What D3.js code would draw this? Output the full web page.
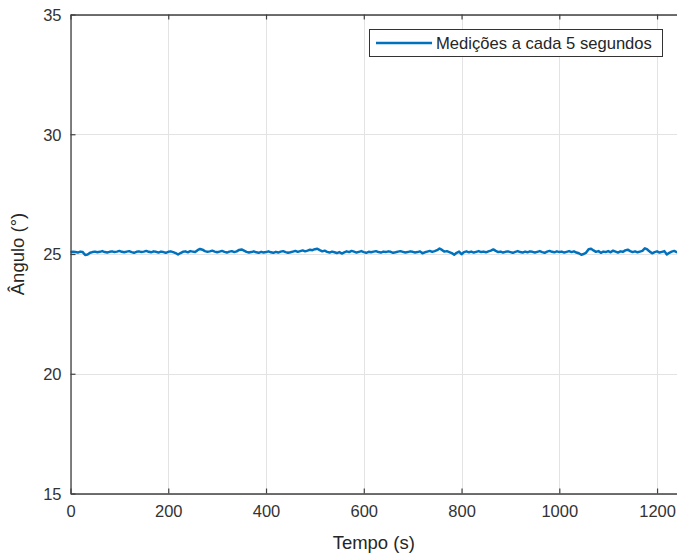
<!DOCTYPE html>
<html>
<head>
<meta charset="utf-8">
<script src="https://cdn.jsdelivr.net/npm/d3@7"></script>
<style>
  html, body { margin: 0; padding: 0; background: #fff; }
  svg { display: block; font-family: "Liberation Sans", Arial, Helvetica, sans-serif; }
</style>
</head>
<body>
<svg id="chart" width="677" height="555"></svg>
<script>
// Ângulo medido a cada 5 s (t = 0, 5, 10, ... s)
const sampleStep = 5;
const angles = [
  25.07,25.09,25.08,25.06,25.10,25.08,24.96,24.98,25.05,25.08,
  25.10,25.07,25.09,25.12,25.08,25.06,25.09,25.11,25.08,25.10,
  25.13,25.09,25.07,25.10,25.12,25.08,25.05,25.09,25.11,25.08,
  25.10,25.13,25.09,25.07,25.11,25.09,25.06,25.10,25.08,25.05,
  25.09,25.11,25.08,25.04,24.98,25.04,25.09,25.11,25.07,25.12,
  25.10,25.08,25.16,25.21,25.18,25.12,25.09,25.11,25.14,25.10,
  25.07,25.10,25.13,25.09,25.06,25.10,25.12,25.08,25.11,25.17,
  25.19,25.14,25.09,25.06,25.08,25.11,25.07,25.05,25.09,25.06,
  25.08,25.11,25.07,25.05,25.09,25.06,25.10,25.12,25.08,25.05,
  25.07,25.10,25.13,25.09,25.12,25.15,25.11,25.14,25.18,25.16,
  25.20,25.22,25.16,25.11,25.14,25.09,25.06,25.10,25.07,25.04,
  25.08,25.02,25.07,25.11,25.08,25.13,25.10,25.06,25.09,25.12,
  25.08,25.05,25.09,25.07,25.10,25.12,25.08,25.06,25.10,25.08,
  25.11,25.09,25.05,25.07,25.10,25.12,25.09,25.06,25.08,25.11,
  25.09,25.06,25.08,25.11,25.03,25.07,25.10,25.13,25.09,25.12,
  25.16,25.23,25.17,25.10,25.12,25.08,25.04,24.97,25.05,25.10,
  24.99,25.08,25.11,25.07,25.10,25.06,25.09,25.12,25.08,25.10,
  25.07,25.11,25.14,25.19,25.13,25.08,25.10,25.06,25.09,25.11,
  25.08,25.05,25.09,25.12,25.08,25.06,25.10,25.07,25.11,25.09,
  25.06,25.09,25.12,25.08,25.05,25.10,25.13,25.09,25.07,25.11,
  25.08,25.10,25.06,25.09,25.12,25.08,25.11,25.06,25.03,24.97,
  25.00,25.06,25.20,25.22,25.15,25.09,25.12,25.05,25.10,25.08,
  25.12,25.07,25.14,25.10,25.06,25.11,25.09,25.15,25.18,25.12,
  25.08,25.11,25.07,25.10,25.13,25.24,25.19,25.10,25.03,25.08,
  25.11,25.06,25.09,25.12,24.98,25.05,25.10,25.13,25.08,25.06
];
const xTicks = [0, 200, 400, 600, 800, 1000, 1200];
const yTicks = [15, 20, 25, 30, 35];
const xDomain = [0, 1250];
const yDomain = [15, 35];
const seriesName = "Medições a cada 5 segundos";
const xTitle = "Tempo (s)";
const yTitle = "Ângulo (°)";

const data = angles.map((v, i) => ({ t: i * sampleStep, v }));

const svg = d3.select("#chart");
const plotLeft = 70.5, plotTop = 14.5, plotBottom = 493.5, plotRight = 681.5;

const x = d3.scaleLinear().domain(xDomain).range([plotLeft, plotRight]);
const y = d3.scaleLinear().domain(yDomain).range([plotBottom, plotTop]);

const axisColor = "#404040";
const gridColor = "#e3e3e3";
const lineColor = "#0072BD";

// grid
const grid = svg.append("g");
grid.selectAll("line.gx").data(xTicks).join("line")
  .attr("x1", d => Math.round(x(d)) + 0.5).attr("x2", d => Math.round(x(d)) + 0.5)
  .attr("y1", plotTop).attr("y2", plotBottom)
  .attr("stroke", gridColor).attr("stroke-width", 1);
grid.selectAll("line.gy").data(yTicks).join("line")
  .attr("y1", d => Math.round(y(d)) + 0.5).attr("y2", d => Math.round(y(d)) + 0.5)
  .attr("x1", plotLeft).attr("x2", plotRight)
  .attr("stroke", gridColor).attr("stroke-width", 1);

// data line
const line = d3.line().x(d => x(d.t)).y(d => y(d.v)).curve(d3.curveLinear);
svg.append("path").datum(data)
  .attr("d", line)
  .attr("fill", "none")
  .attr("stroke", lineColor)
  .attr("stroke-width", 2.5)
  .attr("stroke-linejoin", "round");

// axes
const fontSize = 16.5;
const fmt = d3.format("d");
const xAxisB = d3.axisBottom(x).tickValues(xTicks).tickFormat(fmt).tickSizeInner(-5).tickSizeOuter(0).tickPadding(12);
const gB = svg.append("g").attr("transform", `translate(0,${plotBottom})`).call(xAxisB);
const xAxisT = d3.axisTop(x).tickValues(xTicks).tickSizeInner(-5).tickSizeOuter(0).tickFormat("");
const gT = svg.append("g").attr("transform", `translate(0,${plotTop})`).call(xAxisT);
const yAxisL = d3.axisLeft(y).tickValues(yTicks).tickFormat(fmt).tickSizeInner(-5).tickSizeOuter(0).tickPadding(9);
const gL = svg.append("g").attr("transform", `translate(${plotLeft},0)`).call(yAxisL);

[gB, gT, gL].forEach(g => {
  g.select(".domain").attr("stroke", axisColor).attr("stroke-width", 1.3);
  g.selectAll(".tick line").attr("stroke", axisColor).attr("stroke-width", 1.2);
  g.selectAll(".tick text")
    .attr("fill", "#333")
    .attr("font-size", fontSize)
    .attr("font-family", '"Liberation Sans", Arial, sans-serif');
});
gL.selectAll(".tick text").attr("dy", "0.36em");

// axis titles
svg.append("text")
  .attr("x", (plotLeft + 677) / 2)
  .attr("y", 549)
  .attr("text-anchor", "middle")
  .attr("fill", "#262626")
  .attr("font-size", 18.5)
  .text(xTitle);

svg.append("text")
  .attr("transform", `translate(24,${(plotTop + plotBottom) / 2}) rotate(-90)`)
  .attr("text-anchor", "middle")
  .attr("fill", "#262626")
  .attr("font-size", 18.5)
  .text(yTitle);

// legend
const lg = svg.append("g");
lg.append("rect")
  .attr("x", 369.5).attr("y", 29.5)
  .attr("width", 293).attr("height", 27)
  .attr("fill", "#fff")
  .attr("stroke", "#333").attr("stroke-width", 1);
lg.append("line")
  .attr("x1", 376).attr("x2", 432)
  .attr("y1", 43).attr("y2", 43)
  .attr("stroke", lineColor).attr("stroke-width", 2.5);
lg.append("text")
  .attr("x", 436).attr("y", 49)
  .attr("fill", "#262626")
  .attr("font-size", 16.6)
  .text(seriesName);
</script>
</body>
</html>
